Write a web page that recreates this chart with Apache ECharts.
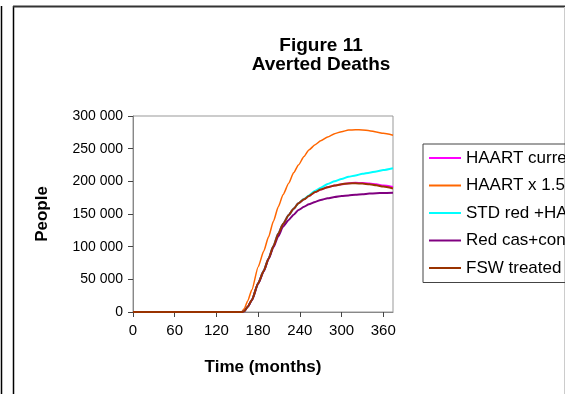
<!DOCTYPE html>
<html>
<head>
<meta charset="utf-8">
<script src="https://cdn.jsdelivr.net/npm/echarts@6/dist/echarts.min.js"></script>
<style>
  html, body { margin: 0; padding: 0; background: #fff; }
  #chart { width: 565px; height: 394px; }
</style>
</head>
<body>
<div id="chart"></div>
<script>
// time axis (months)
var months = [0, 150, 156, 160, 165, 171, 180, 188, 195, 202, 209, 216, 224, 231, 238, 246, 253, 262, 270, 280, 290, 300, 310, 320, 330, 340, 350, 360, 374];

var haartCurrent = [0, 0, 0, 1000, 8000, 18400, 44000, 63000, 82000, 101000, 120000, 135000, 148500, 158000, 166500, 172500, 177500, 183500, 187500, 191000, 193500, 195700, 197200, 197700, 197500, 196700, 195400, 193700, 191500];
var haartX15 = [0, 0, 0, 5000, 17000, 34000, 69000, 93000, 115000, 139000, 161000, 180000, 197000, 213000, 225000, 238000, 248000, 256000, 262000, 268000, 273000, 276000, 278500, 279000, 278600, 277500, 275500, 273500, 270500];
var stdRedHaart = [0, 0, 0, 1000, 8000, 18400, 44000, 63000, 82000, 101000, 120000, 135000, 148500, 158000, 166500, 173000, 178500, 185500, 190000, 196000, 200000, 203500, 207000, 209000, 211500, 213300, 215200, 217200, 220000];
var redCasCon = [0, 0, 0, 1000, 8000, 18000, 43500, 62000, 81000, 99000, 116000, 131000, 141000, 149000, 156000, 161000, 165000, 168500, 171500, 174000, 176000, 177500, 178500, 179300, 180200, 181200, 181800, 182200, 182600];
var fswTreated = [0, 0, 0, 1000, 8000, 18400, 44000, 63000, 82000, 101000, 120000, 135000, 148500, 158000, 166500, 172500, 177500, 183500, 187500, 191000, 193500, 195500, 196800, 197000, 196500, 195500, 194000, 192000, 189000];

var seriesNames = ['HAART current', 'HAART x 1.5', 'STD red +HAART', 'Red cas+condom', 'FSW treated'];
var seriesData = [haartCurrent, haartX15, stdRedHaart, redCasCon, fswTreated];
var seriesColors = ['#FF00FF', '#FF6600', '#00FFFF', '#800080', '#993300'];
var seriesWidths = [2, 1.5, 2, 2, 2];

var xTicks = [0, 60, 120, 180, 240, 300, 360];

function pairs(ys) {
  var out = [];
  for (var i = 0; i < months.length; i++) {
    out.push([months[i], ys[i]]);
  }
  return out;
}

function fmtThousands(v) {
  return String(v).replace(/\B(?=(\d{3})+(?!\d))/g, ' ');
}

var chart = echarts.init(document.getElementById('chart'), null, { renderer: 'canvas' });

var series = seriesNames.map(function (name, i) {
  return {
    name: name,
    type: 'line',
    data: pairs(seriesData[i]),
    showSymbol: false,
    symbol: 'none',
    smooth: 0.2,
    smoothMonotone: 'x',
    lineStyle: { color: seriesColors[i], width: seriesWidths[i] },
    itemStyle: { color: seriesColors[i] },
    animation: false
  };
});

var font = 'Liberation Sans, Arial, sans-serif';

chart.setOption({
  backgroundColor: '#fff',
  textStyle: { fontFamily: font },
  title: {
    text: 'Figure 11\nAverted Deaths',
    left: 316,
    top: 31,
    textAlign: 'center',
    textStyle: { fontSize: 19, fontWeight: 'bold', color: '#000', lineHeight: 19.5, fontFamily: font }
  },
  legend: {
    orient: 'vertical',
    left: 423,
    top: 144,
    padding: [5.5, 80, 6, 6],
    itemGap: 10.5,
    itemWidth: 32,
    itemHeight: 2,
    icon: 'rect',
    borderColor: '#444',
    borderWidth: 1,
    textStyle: { fontSize: 17, color: '#000', lineHeight: 17, fontFamily: font },
    data: seriesNames
  },
  grid: {
    left: 133,
    right: 172,
    top: 116,
    bottom: 82,
    show: true,
    borderColor: '#999',
    borderWidth: 1
  },
  xAxis: {
    type: 'value',
    min: 0,
    max: 374,
    interval: 60,
    name: 'Time (months)',
    nameLocation: 'middle',
    nameGap: 47,
    nameTextStyle: { fontSize: 17, fontWeight: 'bold', color: '#000', fontFamily: font },
    splitLine: { show: false },
    axisLine: { lineStyle: { color: '#888', width: 1 } },
    axisTick: { show: true, length: 5, customValues: xTicks, lineStyle: { color: '#444' } },
    axisLabel: { fontSize: 15, color: '#000', margin: 11, customValues: xTicks }
  },
  yAxis: {
    type: 'value',
    min: 0,
    max: 300000,
    interval: 50000,
    name: 'People',
    nameLocation: 'middle',
    nameRotate: 90,
    nameGap: 82,
    nameTextStyle: { fontSize: 17, fontWeight: 'bold', color: '#000', fontFamily: font },
    splitLine: { show: false },
    axisLine: { show: true, lineStyle: { color: '#888', width: 1 } },
    axisTick: { show: true, length: 5, lineStyle: { color: '#444' } },
    axisLabel: { fontSize: 14, color: '#000', margin: 10, formatter: fmtThousands }
  },
  graphic: [
    { type: 'line', shape: { x1: 1.5, y1: 6, x2: 1.5, y2: 394 }, style: { stroke: '#000', lineWidth: 1.5 }, silent: true },
    { type: 'line', shape: { x1: 13.5, y1: 6, x2: 13.5, y2: 394 }, style: { stroke: '#000', lineWidth: 1.5 }, silent: true },
    { type: 'line', shape: { x1: 13, y1: 6.5, x2: 565, y2: 6.5 }, style: { stroke: '#333', lineWidth: 2 }, silent: true },
    { type: 'line', shape: { x1: 564.5, y1: 7, x2: 564.5, y2: 394 }, style: { stroke: '#ccc', lineWidth: 1 }, silent: true }
  ],
  series: series
});
</script>
</body>
</html>
